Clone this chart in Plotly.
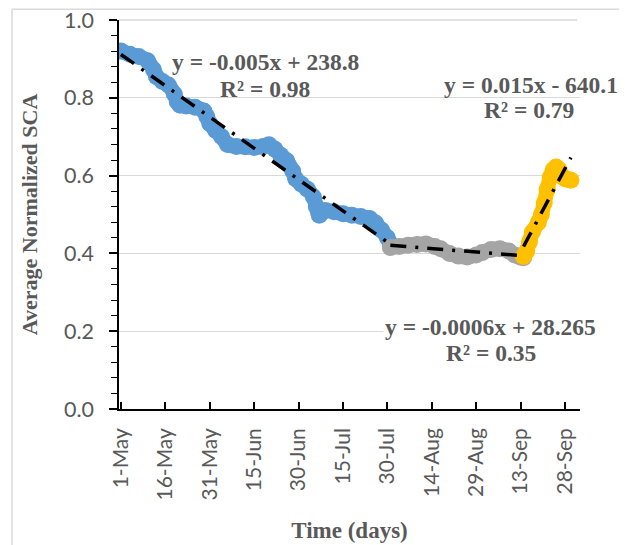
import numpy as np
import pandas as pd
import plotly.graph_objects as go

# ---------------- data ----------------
start = pd.Timestamp("2019-05-01")

blue_days = [0, 3, 6, 9, 11, 12, 14, 16, 18, 19, 20, 22, 25, 28, 29, 30, 32, 34, 36, 39,
             42, 45, 48, 50, 52, 54, 56, 58, 59, 61, 63, 65, 66, 67, 69, 72, 75, 78, 81,
             84, 86, 88, 90, 91]
blue_vals = [0.920, 0.912, 0.906, 0.895, 0.872, 0.854, 0.842, 0.833, 0.810, 0.790, 0.781,
             0.779, 0.776, 0.766, 0.752, 0.734, 0.716, 0.700, 0.680, 0.675, 0.674, 0.672,
             0.675, 0.679, 0.668, 0.652, 0.638, 0.612, 0.592, 0.578, 0.565, 0.545, 0.520,
             0.498, 0.510, 0.507, 0.502, 0.498, 0.495, 0.490, 0.478, 0.460, 0.440, 0.425]

gray_days = [91, 94, 97, 100, 103, 106, 108, 111, 114, 117, 120, 122, 125, 128, 131, 133, 135, 136]
gray_vals = [0.415, 0.418, 0.421, 0.423, 0.424, 0.418, 0.412, 0.400, 0.393, 0.391, 0.396,
             0.402, 0.410, 0.412, 0.406, 0.396, 0.390, 0.389]

gold_days = [136, 137, 138, 139, 141, 142, 143, 144, 145, 146, 147, 148, 149, 150, 151, 152]
gold_vals = [0.392, 0.405, 0.430, 0.455, 0.480, 0.500, 0.530, 0.565, 0.595, 0.615, 0.622,
             0.615, 0.598, 0.592, 0.590, 0.588]

tick_days = [0, 15, 30, 45, 60, 75, 90, 105, 120, 135, 150]
tick_labels = ["1-May", "16-May", "31-May", "15-Jun", "30-Jun", "15-Jul", "30-Jul",
               "14-Aug", "29-Aug", "13-Sep", "28-Sep"]

eq_texts = ["y = -0.005x + 238.8", "R² = 0.98",
            "y = 0.015x - 640.1", "R² = 0.79",
            "y = -0.0006x + 28.265", "R² = 0.35"]

Y_MAX = 1.0

# ---------------- helpers ----------------
def to_dates(days):
    return [start + pd.Timedelta(days=d) for d in days]

TXT = "#595959"
fig = go.Figure()

series = [
    (blue_days, blue_vals, "#5B9BD5"),
    (gray_days, gray_vals, "#A5A5A5"),
    (gold_days, gold_vals, "#FFC000"),
]
for days, vals, col in series:
    fig.add_trace(go.Scatter(
        x=to_dates(days), y=vals, mode="lines+markers",
        line=dict(color=col, width=15, shape="spline"),
        marker=dict(size=17, color=col),
        hoverinfo="skip"))

# linear trendlines fitted to each series
for days, vals, col in series:
    k, b = np.polyfit(days, vals, 1)
    xs = [days[0], days[-1]]
    fig.add_trace(go.Scatter(
        x=to_dates(xs), y=[k * d + b for d in xs], mode="lines",
        line=dict(color="black", width=3.5, dash="16px,9px,3px,9px"),
        hoverinfo="skip"))

# page is drawn with an 8px body margin; plot area in screenshot pixels:
OFF = 8
L, R, T, B = 119, 580, 20, 409
W, H = 627, 545
def px(xp):
    return (xp - L) / (R - L)
def py(yp):
    return (B - yp) / (B - T)

ann_pos = [(265, 62), (265, 89), (531, 85), (529, 110), (490, 327), (491, 353)]
for i, (txt, (ax_, ay_)) in enumerate(zip(eq_texts, ann_pos)):
    fig.add_annotation(
        x=px(ax_), y=py(ay_), xref="paper", yref="paper", text=txt,
        showarrow=False, xanchor="center", yanchor="middle",
        font=dict(family="Liberation Serif", size=23.5, color=TXT, weight="bold"),
        bgcolor="white" if i >= 4 else None)

# top gridline at the axis maximum (top edge of the plot area, not clipped)
fig.add_shape(type="line", xref="paper", yref="paper", x0=0, x1=0.994, y0=1, y1=1,
              line=dict(color="#D9D9D9", width=1.3), layer="below")

# light gray chart border (left and top edges visible)
fig.add_shape(type="line", xref="paper", yref="paper",
              x0=px(12), x1=px(12), y0=py(9.2), y1=py(560),
              line=dict(color="#D9D9D9", width=1.5))
fig.add_shape(type="line", xref="paper", yref="paper",
              x0=px(12), x1=px(640), y0=py(9.2), y1=py(9.2),
              line=dict(color="#D9D9D9", width=1.5))

fig.update_layout(
    width=W, height=H,
    margin=dict(l=L - OFF, r=W - (R - OFF), t=T - OFF, b=H - (B - OFF)),
    paper_bgcolor="white", plot_bgcolor="white",
    showlegend=False,
    xaxis=dict(
        type="date", automargin=False,
        range=[start + pd.Timedelta(hours=-16), start + pd.Timedelta(days=155.07)],
        tickvals=to_dates(tick_days), ticktext=tick_labels,
        tickangle=-90,
        ticks="inside", ticklen=7, tickwidth=1.5, tickcolor="black",
        showline=True, linecolor="black", linewidth=1.5,
        showgrid=False, zeroline=False,
        tickfont=dict(family="Lato", size=21, color=TXT),
        ticklabelstandoff=9, ticklabeloverflow="allow",
        title=dict(text="Time (days)", standoff=22,
                   font=dict(family="Liberation Serif", size=23, color=TXT, weight="bold")),
    ),
    yaxis=dict(
        range=[0, Y_MAX], dtick=0.2, tickformat=".1f", automargin=False,
        ticks="outside", ticklen=8, tickwidth=1.5, tickcolor="black",
        minor=dict(dtick=0.04, ticks="outside", ticklen=6, tickwidth=1.2, tickcolor="black"),
        showline=True, linecolor="black", linewidth=1.5,
        showgrid=True, gridcolor="#D9D9D9", gridwidth=1.3,
        zeroline=False,
        tickfont=dict(family="Lato", size=21.5, color=TXT),
        ticklabelstandoff=11, ticklabeloverflow="allow",
        title=dict(text="Average Normalized SCA", standoff=20,
                   font=dict(family="Liberation Serif", size=22, color=TXT, weight="bold")),
    ),
)

fig.write_html("out.html", config={"displayModeBar": False})
